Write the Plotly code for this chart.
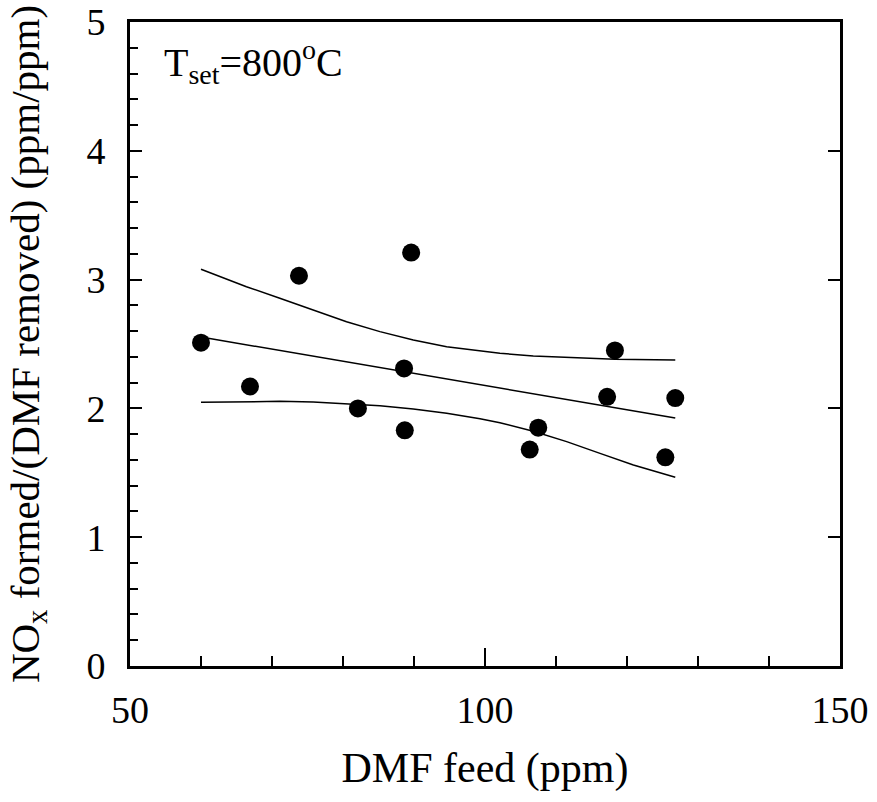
import plotly.graph_objects as go

# Data points (DMF feed ppm, NOx formed / DMF removed)
dmf_feed = [60.0, 66.9, 73.8, 82.1, 88.6, 88.7, 89.6, 106.3, 107.5, 117.2, 118.3, 125.4, 126.8]
nox_ratio = [2.51, 2.17, 3.03, 2.00, 2.31, 1.83, 3.21, 1.68, 1.85, 2.09, 2.45, 1.62, 2.08]

# Linear fit line
fit_x = [60.0, 126.8]
fit_y = [2.554, 1.925]

# Upper band
upper_x = [60.0, 66.4, 71.1, 75.8, 80.5, 85.2, 89.9, 94.6, 99.3, 102.1, 106.8, 111.5, 118.3, 126.8]
upper_y = [3.080, 2.945, 2.855, 2.764, 2.673, 2.596, 2.531, 2.479, 2.446, 2.428, 2.407, 2.394, 2.381, 2.376]

# Lower band
lower_x = [60.0, 66.4, 71.1, 75.8, 82.1, 85.2, 89.9, 94.6, 99.3, 102.1, 106.8, 111.5, 116.2, 120.9, 126.8]
lower_y = [2.047, 2.052, 2.055, 2.050, 2.034, 2.021, 1.995, 1.962, 1.920, 1.889, 1.822, 1.742, 1.651, 1.561, 1.465]

FONT = "Liberation Serif"

fig = go.Figure()
line_style = dict(color="black", width=1.5)
fig.add_trace(go.Scatter(x=upper_x, y=upper_y, mode="lines", line=line_style, showlegend=False))
fig.add_trace(go.Scatter(x=fit_x, y=fit_y, mode="lines", line=line_style, showlegend=False))
fig.add_trace(go.Scatter(x=lower_x, y=lower_y, mode="lines", line=line_style, showlegend=False))
fig.add_trace(go.Scatter(x=dmf_feed, y=nox_ratio, mode="markers",
                         marker=dict(color="black", size=18, symbol="circle"), showlegend=False))
# invisible trace for right axis
fig.add_trace(go.Scatter(x=[50], y=[0], yaxis="y2", mode="markers",
                         marker=dict(opacity=0), showlegend=False, hoverinfo="skip"))

fig.update_layout(
    width=877, height=802,
    margin=dict(l=130, r=37, t=22, b=136),
    paper_bgcolor="white", plot_bgcolor="white",
    font=dict(family=FONT, color="black", size=38),
    xaxis=dict(
        range=[50, 150], tickvals=[50, 100, 150], ticks="inside", ticklen=18, tickwidth=2,
        tickcolor="black", automargin=False,
        minor=dict(dtick=10, tick0=50, ticks="inside", ticklen=10, tickwidth=2, tickcolor="black"),
        showline=True, linecolor="black", linewidth=3, mirror=True,
        showgrid=False, zeroline=False,
        tickfont=dict(size=38, family=FONT, color="black"),
        ticklabelstandoff=8,
        title=dict(text="DMF feed (ppm)", font=dict(size=42, family=FONT, color="black"), standoff=24),
    ),
    yaxis=dict(
        range=[0, 5], tickvals=[0, 1, 2, 3, 4, 5], ticks="inside", ticklen=12, tickwidth=2,
        tickcolor="black", automargin=False,
        minor=dict(dtick=0.2, tick0=0, ticks="inside", ticklen=8, tickwidth=2, tickcolor="black"),
        showline=True, linecolor="black", linewidth=3, mirror=True,
        showgrid=False, zeroline=False,
        tickfont=dict(size=38, family=FONT, color="black"),
        ticklabelstandoff=14,
        title=dict(text="NO<sub>x</sub> formed/(DMF removed) (ppm/ppm)",
                   font=dict(size=41, family=FONT, color="black"), standoff=35),
    ),
    yaxis2=dict(
        range=[0, 5], overlaying="y", side="right", tickvals=[1, 2, 3, 4],
        ticks="inside", ticklen=12, tickwidth=2, tickcolor="black", automargin=False,
        showticklabels=False, showgrid=False, zeroline=False, showline=False,
    ),
    annotations=[dict(
        text="T<sub>set</sub>=800<sup>o</sup>C", x=0.045, y=0.985, xref="paper", yref="paper",
        xanchor="left", yanchor="top", showarrow=False,
        font=dict(size=40, family=FONT, color="black"),
    )],
)

fig.write_html("out.html")
